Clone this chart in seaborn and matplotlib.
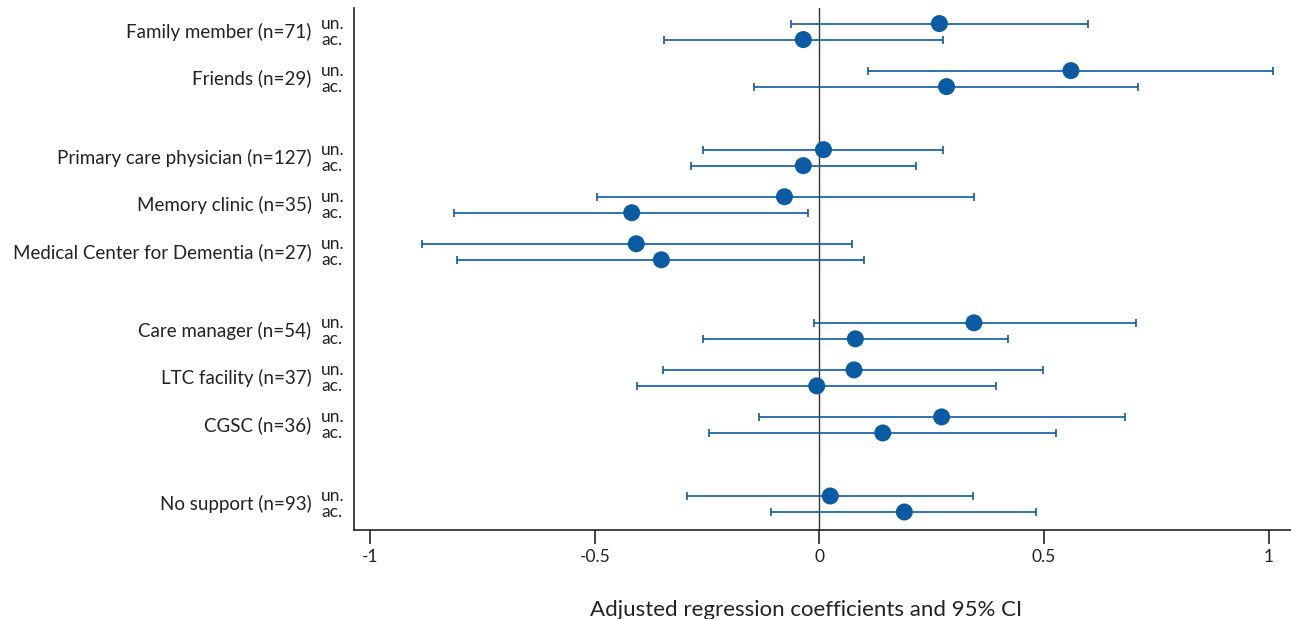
import matplotlib
matplotlib.use("Agg")
import matplotlib.pyplot as plt
import seaborn as sns
import numpy as np
import pandas as pd

# categories (top to bottom) and the block each one belongs to
categories = ["Family member (n=71)", "Friends (n=29)",
              "Primary care physician (n=127)", "Memory clinic (n=35)",
              "Medical Center for Dementia (n=27)",
              "Care manager (n=54)", "LTC facility (n=37)", "CGSC (n=36)",
              "No support (n=93)"]
groups = [0, 0, 1, 1, 1, 2, 2, 2, 3]

# unadjusted ("un.") estimates and 95% CI
un_est = [0.267, 0.560, 0.009, -0.078, -0.408, 0.344, 0.077, 0.272, 0.024]
un_lo = [-0.063, 0.109, -0.259, -0.496, -0.886, -0.012, -0.348, -0.135, -0.294]
un_hi = [0.598, 1.010, 0.276, 0.344, 0.072, 0.705, 0.498, 0.680, 0.341]

# adjusted ("ac.") estimates and 95% CI
ac_est = [-0.036, 0.283, -0.036, -0.418, -0.352, 0.080, -0.006, 0.141, 0.189]
ac_lo = [-0.346, -0.146, -0.287, -0.813, -0.806, -0.259, -0.407, -0.247, -0.107]
ac_hi = [0.275, 0.710, 0.215, -0.025, 0.099, 0.419, 0.393, 0.527, 0.482]

xticks = [-1, -0.5, 0, 0.5, 1]
xtick_labels = ["-1", "-0.5", "0", "0.5", "1"]

sns.set_style("white")
plt.rcParams["font.family"] = ["Lato", "DejaVu Sans"]

blue = "#0a5ba3"
fig = plt.figure(figsize=(12.91, 6.19), dpi=100)
ax = fig.add_axes([0.274, 0.144, 0.726, 0.843])

# vertical positions: one slot per category, extra gap between blocks
gap = 0.68
pos = np.array([i + gap * g for i, g in enumerate(groups)])
off = 0.17

df = pd.DataFrame({
    "cat": categories * 2,
    "kind": ["un."] * len(categories) + ["ac."] * len(categories),
    "est": un_est + ac_est,
    "lo": un_lo + ac_lo,
    "hi": un_hi + ac_hi,
    "y": list(pos - off) + list(pos + off),
})

ax.axvline(0, color="#333333", lw=1.0, zorder=1)
ax.errorbar(df["est"], df["y"],
            xerr=[df["est"] - df["lo"], df["hi"] - df["est"]],
            fmt="none", ecolor=blue, elinewidth=1.2, capsize=3,
            capthick=1.2, zorder=2)
sns.scatterplot(data=df, x="est", y="y", ax=ax, color=blue, s=150,
                edgecolor="none", zorder=3, legend=False)

ax.set_xlim(-1.037, 1.05)
ax.set_ylim(pos[-1] + 0.55, pos[0] - 0.5)
ax.set_xticks(xticks)
ax.set_xticklabels(xtick_labels, fontsize=12.5, color="#222222")
ax.set_yticks([])
ax.set_ylabel("")
ax.tick_params(axis="x", direction="out", length=10, width=1.2,
               color="#222222", pad=4, bottom=True)
ax.set_xlabel("Adjusted regression coefficients and 95% CI",
              fontsize=16, color="#222222")
ax.xaxis.set_label_coords(0.483, -0.135)

for side in ["top", "right"]:
    ax.spines[side].set_visible(False)
for side in ["left", "bottom"]:
    ax.spines[side].set_color("#222222")
    ax.spines[side].set_linewidth(1.2)

# category labels with the un./ac. markers
for name, p in zip(categories, pos):
    ax.text(-0.045, p, name, transform=ax.get_yaxis_transform(),
            ha="right", va="center", fontsize=13.5, color="#222222")
    ax.text(-0.035, p - off, "un.", transform=ax.get_yaxis_transform(),
            ha="left", va="center", fontsize=12.5, color="#222222")
    ax.text(-0.035, p + off, "ac.", transform=ax.get_yaxis_transform(),
            ha="left", va="center", fontsize=12.5, color="#222222")

fig.savefig("out.png", dpi=100)
